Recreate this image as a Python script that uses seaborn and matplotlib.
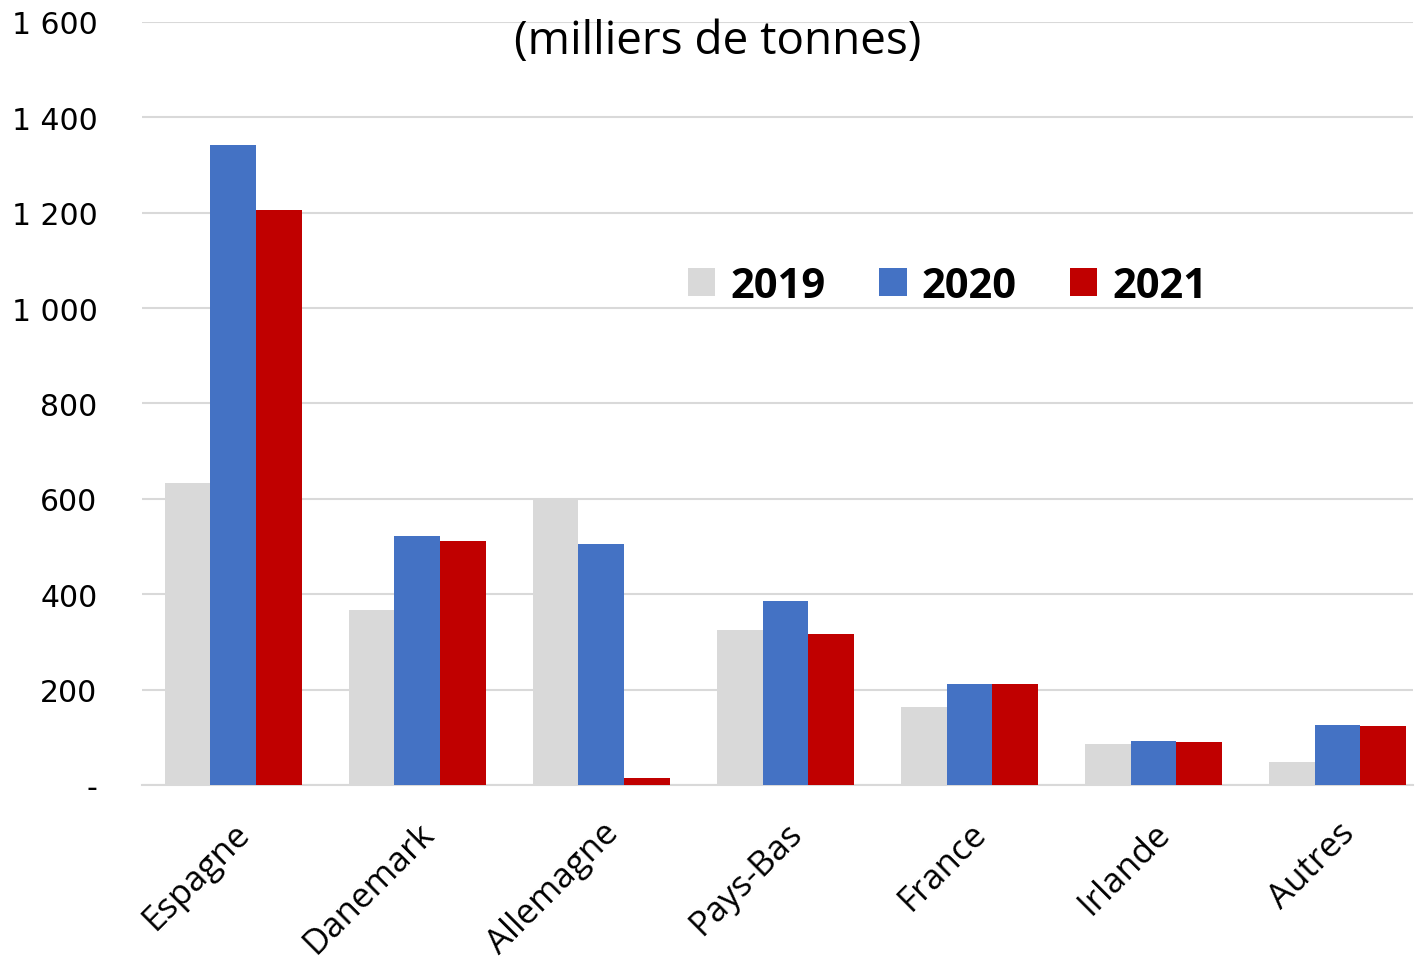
import pandas as pd
import numpy as np
import matplotlib
matplotlib.use('Agg')
import matplotlib.pyplot as plt
import seaborn as sns
from matplotlib.patches import Patch

# data (milliers de tonnes)
pays = ['Espagne', 'Danemark', 'Allemagne', 'Pays-Bas', 'France', 'Irlande', 'Autres']
annees = ['2019', '2020', '2021']
v2019 = [633, 367, 602, 325, 164, 86, 48]
v2020 = [1342, 522, 505, 386, 212, 92, 126]
v2021 = [1206, 512, 15, 317, 212, 90, 124]
couleurs = ['#D9D9D9', '#4472C4', '#C00000']
yticks = [0, 200, 400, 600, 800, 1000, 1200, 1400, 1600]

df = pd.DataFrame({
    'Pays': pays * 3,
    'Annee': [a for a in annees for _ in pays],
    'Valeur': v2019 + v2020 + v2021,
})

sns.set_style('white')
plt.rcParams['font.family'] = ['Open Sans', 'DejaVu Sans']
plt.rcParams['text.color'] = 'black'
plt.rcParams['xtick.color'] = 'black'
plt.rcParams['ytick.color'] = 'black'

fig = plt.figure(figsize=(14.15, 9.7), dpi=100)
ax = fig.add_axes([0.1004, 0.1897, 0.8982, 0.7866])

sns.barplot(data=df, x='Pays', y='Valeur', hue='Annee', palette=couleurs,
            width=0.745, saturation=1, ax=ax, legend=False, zorder=3,
            linewidth=0, edgecolor='none')

ax.set_ylim(0, 1600)
ax.set_xlim(-0.495, 6.41)
ax.set_yticks(yticks)
ax.set_yticklabels(['-' if t == 0 else f'{t:,}'.replace(',', ' ') for t in yticks],
                   fontfamily='DejaVu Sans', fontsize=21.5)
ax.yaxis.grid(True, color='#D9D9D9', linewidth=1.5, zorder=0)
ax.set_axisbelow(True)
for s in ['top', 'right', 'left']:
    ax.spines[s].set_visible(False)
ax.spines['bottom'].set_color('#D9D9D9')
ax.spines['bottom'].set_linewidth(1.5)
ax.tick_params(axis='y', length=0, pad=32)
ax.tick_params(axis='x', length=0, pad=22)
ax.set_xticks(range(len(pays)))
ax.set_xticklabels(pays, rotation=45, ha='right', rotation_mode='anchor', fontsize=25)
ax.set_xlabel('')
ax.set_ylabel('')

fig.text(0.507, 0.957, '(milliers de tonnes)', ha='center', va='center', fontsize=33)

handles = [Patch(facecolor=c, edgecolor='none') for c in couleurs]
ax.legend(handles, annees, loc='center left', bbox_to_anchor=(0.460, 0.704),
          bbox_transform=fig.transFigure, ncol=3, frameon=False,
          prop={'weight': 'bold', 'size': 30}, handlelength=0.65, handleheight=0.65,
          handletextpad=0.35, columnspacing=1.3)

fig.savefig('out.png', dpi=100)
